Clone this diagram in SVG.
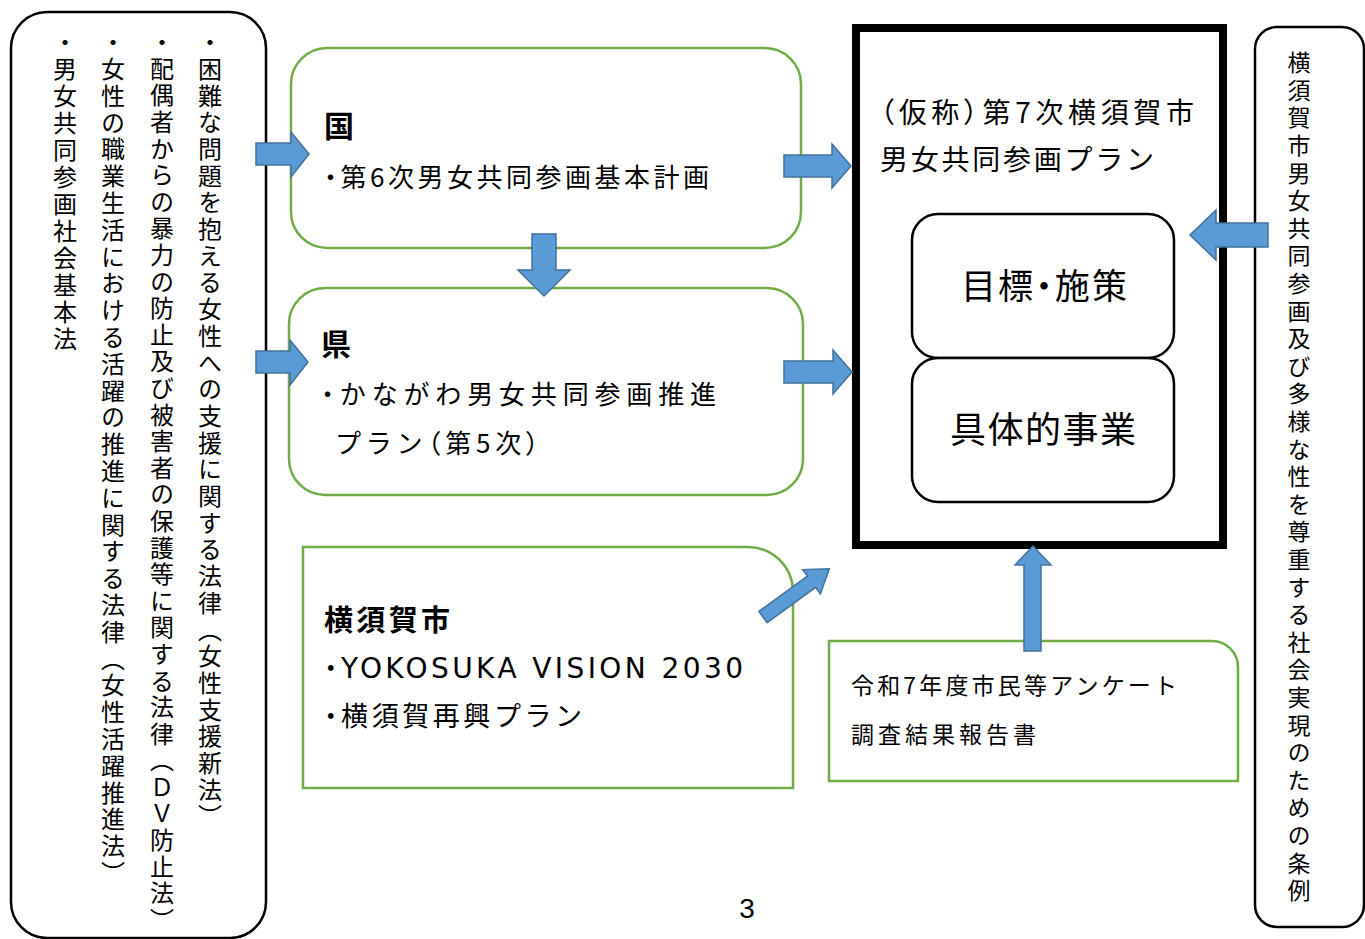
<svg xmlns="http://www.w3.org/2000/svg" width="1365" height="939" viewBox="0 0 1365 939">
<defs>
<style>
.t{font-family:"Noto Sans CJK JP","Noto Sans",sans-serif;fill:#000}
.p{font-feature-settings:"palt" 1}
.b{font-weight:bold}
.lat{font-family:"DejaVu Sans","Noto Sans",sans-serif}
.v{writing-mode:vertical-rl;font-family:"Noto Sans CJK JP",sans-serif;fill:#000}
.g{fill:#fff;stroke:#70AD47;stroke-width:2.5}
.k{fill:#fff;stroke:#000;stroke-width:2.5}
.ar{fill:#5B9BD5;stroke:#41719C;stroke-width:1.5}
</style>
</defs>
<rect width="1365" height="939" fill="#fff"/>

<g id="laws">
<rect class="k" x="11" y="12" width="255" height="926" rx="36"/>
<text class="v" x="210" y="30" font-size="24" letter-spacing="2.7">・困難な問題を抱える女性への支援に関する法律（女性支援新法）</text>
<text class="v" x="162" y="30" font-size="24" letter-spacing="2.6">・配偶者からの暴力の防止及び被害者の保護等に関する法律（ＤＶ防止法）</text>
<text class="v" x="113" y="30" font-size="24" letter-spacing="2.8">・女性の職業生活における活躍の推進に関する法律（女性活躍推進法）</text>
<text class="v" x="65" y="30" font-size="24" letter-spacing="3">・男女共同参画社会基本法</text>
</g>

<g id="ordinance">
<rect class="k" x="1255" y="27" width="109" height="900" rx="22"/>
<text class="v" x="1299" y="51" font-size="23" letter-spacing="4.6">横須賀市男女共同参画及び多様な性を尊重する社会実現のための条例</text>
</g>

<g id="kuni">
<rect class="g" x="291" y="48" width="510" height="200" rx="36"/>
<text class="t b" x="324" y="137" font-size="30">国</text>
<text class="t" x="324" y="187" font-size="26" textLength="385" lengthAdjust="spacing"><tspan class="p">・</tspan>第6次男女共同参画基本計画</text>
</g>

<g id="ken">
<rect class="g" x="289" y="288" width="514" height="207" rx="36"/>
<text class="t b" x="321" y="355" font-size="30">県</text>
<text class="t" x="321" y="404" font-size="26" textLength="395" lengthAdjust="spacing"><tspan class="p">・</tspan>かながわ男女共同参画推進</text>
<text class="t" x="335" y="453" font-size="26" textLength="204" lengthAdjust="spacing">プラン<tspan class="p">（</tspan>第5次<tspan class="p">）</tspan></text>
</g>

<g id="city">
<path class="g" d="M303,547 H748 A45,45 0 0 1 793,592 V788 H303 Z"/>
<text class="t b" x="324" y="631" font-size="29" textLength="126" lengthAdjust="spacing">横須賀市</text>
<text class="t" x="324" y="678" font-size="27" textLength="419" lengthAdjust="spacing"><tspan class="p">・</tspan><tspan class="lat" font-size="28">YOKOSUKA VISION 2030</tspan></text>
<text class="t" x="324" y="726" font-size="27" textLength="258" lengthAdjust="spacing"><tspan class="p">・</tspan>横須賀再興プラン</text>
</g>

<g id="survey">
<path class="g" d="M829,641 H1212 A26,26 0 0 1 1238,667 V781 H829 Z"/>
<text class="t" x="851" y="694" font-size="23" textLength="326" lengthAdjust="spacing">令和7年度市民等アンケート</text>
<text class="t" x="851" y="743" font-size="23" textLength="185" lengthAdjust="spacing">調査結果報告書</text>
</g>

<g id="plan">
<rect x="856" y="28" width="367" height="517" fill="#fff" stroke="#000" stroke-width="8"/>
<text class="t" x="880" y="123" font-size="28" textLength="314" lengthAdjust="spacing"><tspan class="p">（</tspan>仮称<tspan class="p">）</tspan>第7次横須賀市</text>
<text class="t" x="880" y="170" font-size="28" textLength="274" lengthAdjust="spacing">男女共同参画プラン</text>
</g>

<g id="goals">
<rect class="k" x="912" y="214" width="262" height="144" rx="26"/>
<text class="t" x="1044" y="299" font-size="35" text-anchor="middle" textLength="166" lengthAdjust="spacing">目標<tspan class="p">・</tspan>施策</text>
</g>

<g id="projects">
<rect class="k" x="912" y="358" width="262" height="144" rx="26"/>
<text class="t" x="1043" y="443" font-size="36" text-anchor="middle" textLength="186" lengthAdjust="spacing">具体的事業</text>
</g>

<g id="connectors">
<polygon class="ar" points="256,143 291,143 291,132 309,154 291,177 291,165 256,165"/>
<polygon class="ar" points="256,351 290,351 290,340 308,362 290,385 290,373 256,373"/>
<polygon class="ar" points="784,155 832,155 832,144 851,166 832,188 832,177 784,177"/>
<polygon class="ar" points="784,361 833,361 833,350 852,372 833,394 833,383 784,383"/>
<polygon class="ar" points="532,234 556,234 556,270 570,270 544,296 518,270 532,270"/>
<polygon class="ar" points="1268,223 1216,223 1216,210 1190,235 1216,260 1216,247 1268,247"/>
<polygon class="ar" points="1024,651 1024,565 1015,565 1033,546 1051,565 1041,565 1041,651"/>
<g transform="translate(763,617) rotate(-36)">
<polygon class="ar" points="0,-7 60,-7 60,-15 82,0 60,15 60,7 0,7"/>
</g>
</g>

<text x="747" y="918" font-family="Liberation Sans, Arial, sans-serif" font-size="28" text-anchor="middle">3</text>
</svg>
